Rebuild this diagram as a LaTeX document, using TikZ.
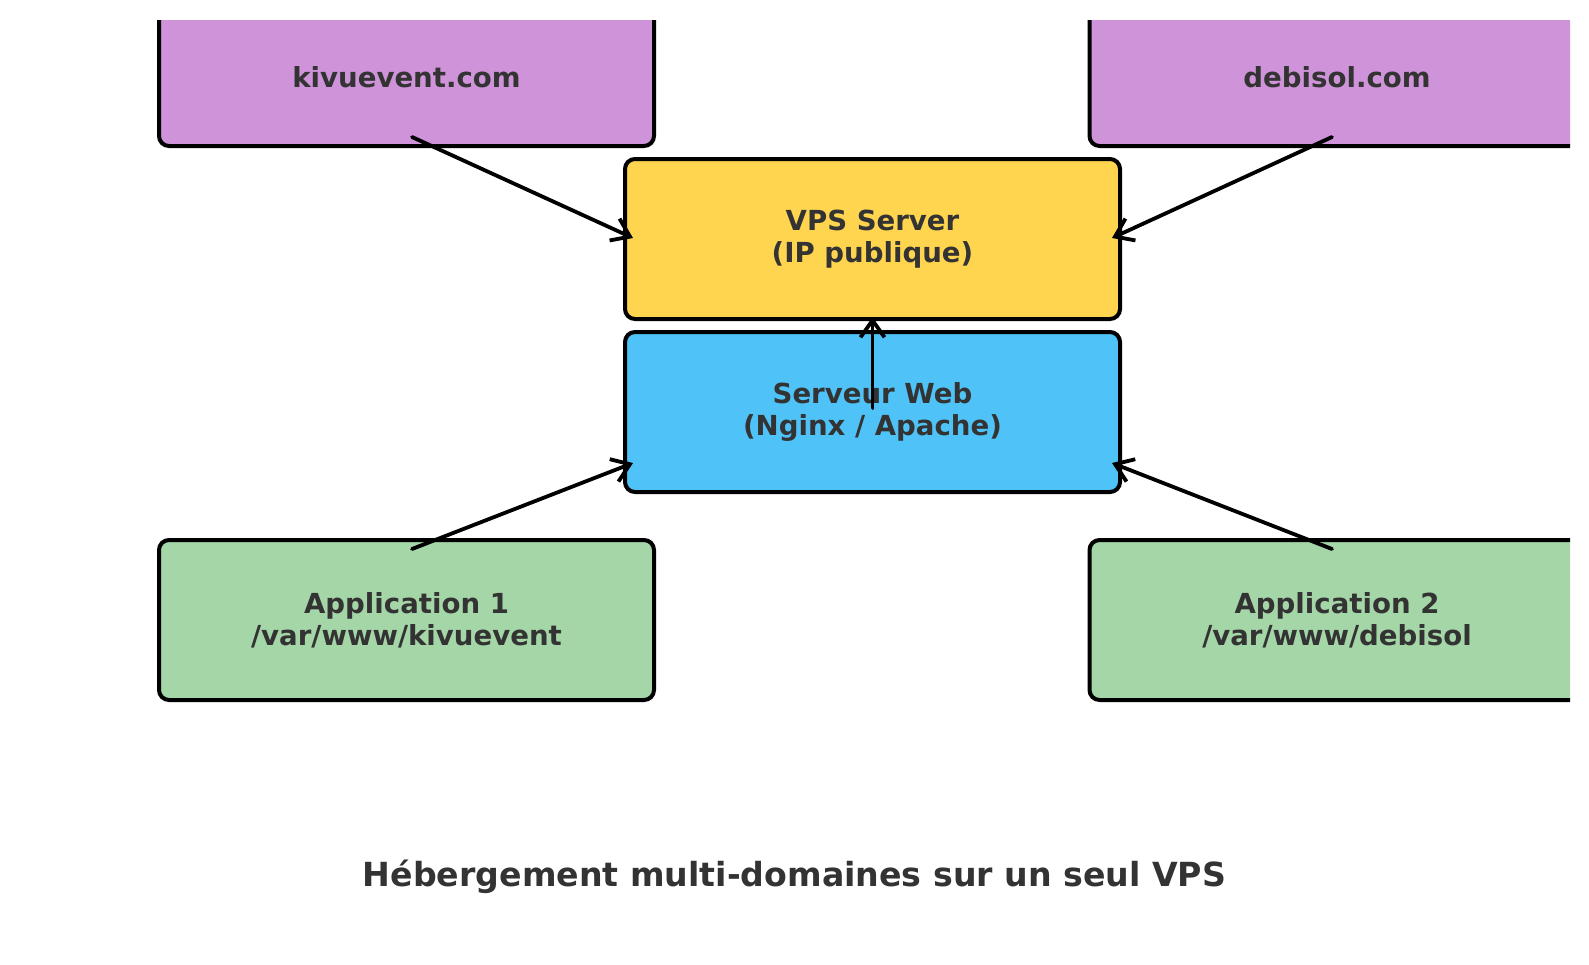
\documentclass[tikz,border=0pt]{standalone}
\usepackage{fontspec}
\setmainfont{DejaVu Sans}
\usetikzlibrary{arrows.meta,calc}
\definecolor{purp}{HTML}{CE93D8}
\definecolor{yell}{HTML}{FFD54F}
\definecolor{blu}{HTML}{4FC3F7}
\definecolor{grn}{HTML}{A5D6A7}
\definecolor{txt}{HTML}{333333}
\begin{document}
\begin{tikzpicture}[x=0.5pt,y=-0.5pt,
  box/.style={draw=black, line width=2pt, rounded corners=5pt,
    minimum width=247.5pt, minimum height=80pt, inner sep=0pt,
    align=center, text=txt, font=\bfseries\fontsize{13.8}{16.2}\selectfont},
  conn/.style={-{Straight Barb[length=8.5pt,width=12pt]}, line width=1.9pt, line cap=round},
  titlestyle/.style={text=txt, font=\bfseries\fontsize{16.6}{19}\selectfont, inner sep=0pt}]
\useasboundingbox (0,0) rectangle (1589,964);
\begin{scope}
\clip (0,20) rectangle (1570,964);
\node[box, fill=purp, minimum height=69pt] (kiv) at (406.5,77) {kivuevent.com};
\node[box, fill=purp, minimum height=69pt] (deb) at (1337,77) {debisol.com};
\node[box, fill=yell] (vps) at (872.5,239) {VPS Server\\(IP publique)};
\node[box, fill=blu] (web) at (872.5,412) {Serveur Web\\(Nginx / Apache)};
\node[box, fill=grn] (app1) at (406.5,620) {Application 1\\/var/www/kivuevent};
\node[box, fill=grn] (app2) at (1337,620) {Application 2\\/var/www/debisol};
\coordinate (k1) at ($(kiv.center)+(5.5,60)$);
\coordinate (d1) at ($(deb.center)+(-5,60)$);
\coordinate (w1) at ($(web.center)+(0,-4)$);
\coordinate (p1) at ($(app1.center)+(5.5,-71)$);
\coordinate (p2) at ($(app2.center)+(-5,-71)$);
\draw[conn] (k1) -- ($(vps.west)+(10,-1)$);
\draw[conn] (d1) -- ($(vps.east)+(-10,-1)$);
\draw[conn] (w1) -- ($(vps.south)+(0,-4)$);
\draw[conn] (p1) -- ($(web.south west)+(10,-31)$);
\draw[conn] (p2) -- ($(web.south east)+(-10,-31)$);
\node[titlestyle] (title) at (794.5,877) {Hébergement multi-domaines sur un seul VPS};
\end{scope}
\end{tikzpicture}
\end{document}
